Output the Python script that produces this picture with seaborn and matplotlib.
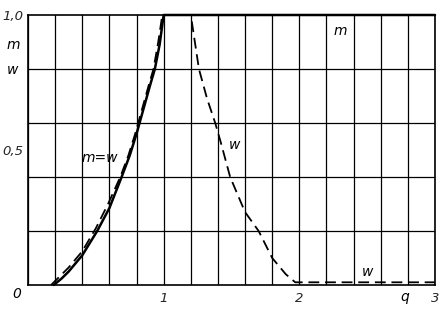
import numpy as np
import pandas as pd
import matplotlib
matplotlib.use("Agg")
import matplotlib.pyplot as plt
import seaborn as sns
from matplotlib.ticker import FixedLocator

# data
m_q = [0.19, 0.25, 0.30, 0.40, 0.51, 0.60, 0.69, 0.75, 0.80, 0.85, 0.90, 0.935, 0.97, 1.0, 3.0]
m_v = [0.0, 0.025, 0.05, 0.11, 0.20, 0.285, 0.40, 0.48, 0.56, 0.65, 0.74, 0.80, 0.89, 1.0, 1.0]

w_q = [0.17, 0.23, 0.30, 0.40, 0.50, 0.59, 0.68, 0.74, 0.79, 0.84, 0.89, 0.925, 0.96, 0.99,
       1.20, 1.26, 1.32, 1.38, 1.42, 1.49, 1.60, 1.70, 1.80, 1.90, 1.97, 3.0]
w_v = [0.0, 0.03, 0.065, 0.125, 0.21, 0.30, 0.40, 0.48, 0.56, 0.65, 0.74, 0.80, 0.90, 1.0,
       1.0, 0.80, 0.69, 0.60, 0.53, 0.40, 0.27, 0.20, 0.10, 0.04, 0.01, 0.01]

x_tick_vals = [1, 2, 3]
x_tick_labels = ["1", "2", "3"]
y_tick_vals = [0.5, 1.0]
y_tick_labels = ["0,5", "1,0"]

sns.set_style("white")
plt.rcParams['font.family'] = ['DejaVu Sans']

fig = plt.figure(figsize=(4.46, 3.11), dpi=100)
ax = fig.add_axes([28/446, 26/311, (435-28)/446, (285-15)/311])

df_m = pd.DataFrame({"q": m_q, "v": m_v})
df_w = pd.DataFrame({"q": w_q, "v": w_v})
sns.lineplot(data=df_m, x="q", y="v", ax=ax, color="black", lw=1.8,
             sort=False, clip_on=False)
sns.lineplot(data=df_w, x="q", y="v", ax=ax, color="black", lw=1.3,
             sort=False, clip_on=False, dashes=False)
ax.lines[-1].set_linestyle((0, (6, 3.2)))

ax.set_xlim(0, 3)
ax.set_ylim(0, 1)
ax.set_xlabel("")
ax.set_ylabel("")

ax.xaxis.set_major_locator(FixedLocator(x_tick_vals))
ax.set_xticklabels(x_tick_labels)
ax.xaxis.set_minor_locator(FixedLocator(np.round(np.arange(0, 3.01, 0.2), 2)))
ax.yaxis.set_major_locator(FixedLocator(y_tick_vals))
ax.set_yticklabels(y_tick_labels)
ax.yaxis.set_minor_locator(FixedLocator([0.2, 0.4, 0.6, 0.8]))

ax.grid(False)
ax.xaxis.grid(True, which="both", color="black", lw=0.9)
ax.yaxis.grid(True, which="minor", color="black", lw=0.9)

ax.tick_params(axis="x", which="both", length=0, pad=5)
ax.tick_params(axis="y", which="major", direction="in", length=7, width=1, pad=3)
ax.tick_params(axis="y", which="minor", length=0)
for lab in ax.get_xticklabels() + ax.get_yticklabels():
    lab.set_fontstyle("italic")
    lab.set_fontsize(9.5)

for s in ax.spines.values():
    s.set_color("black")
    s.set_linewidth(1.2)

ital = dict(fontstyle="italic", fontsize=10, color="black")
ax.text(2.3, 0.94, "m", ha="center", va="center", **ital)
ax.text(1.52, 0.52, "w", ha="center", va="center", **ital)
ax.text(0.53, 0.47, "m=w", ha="center", va="center", **ital)
ax.text(2.5, 0.05, "w", ha="center", va="center", **ital)

fig.text(13/446, 1 - 45/311, "m", ha="center", va="center", **ital)
fig.text(13/446, 1 - 70/311, "w", ha="center", va="center", **ital)
fig.text(17/446, 1 - 294/311, "0", ha="center", va="center", **ital)
fig.text(405/446, 1 - 297/311, "q", ha="center", va="center", **ital)

fig.savefig("out.png", dpi=100)
